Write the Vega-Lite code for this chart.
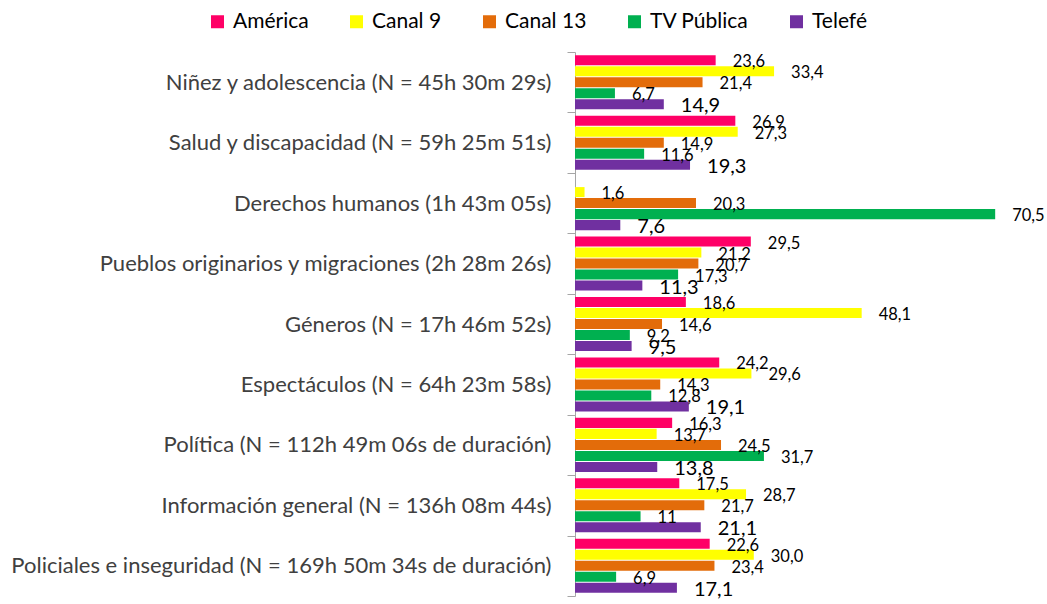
{
  "$schema": "https://vega.github.io/schema/vega-lite/v6.json",
  "autosize": {"type": "none"},
  "width": 447,
  "height": 544,
  "padding": {"left": 575, "top": 52, "right": 25, "bottom": 8},
  "background": "white",
  "config": {"view": {"stroke": null}, "font": "Lato"},
  "data": {
    "values": [
      {"tema": "Niñez y adolescencia (N = 45h 30m 29s)", "canal": "América", "valor": 23.6, "etiqueta": "23,6"},
      {"tema": "Niñez y adolescencia (N = 45h 30m 29s)", "canal": "Canal 9", "valor": 33.4, "etiqueta": "33,4"},
      {"tema": "Niñez y adolescencia (N = 45h 30m 29s)", "canal": "Canal 13", "valor": 21.4, "etiqueta": "21,4"},
      {"tema": "Niñez y adolescencia (N = 45h 30m 29s)", "canal": "TV Pública", "valor": 6.7, "etiqueta": "6,7"},
      {"tema": "Niñez y adolescencia (N = 45h 30m 29s)", "canal": "Telefé", "valor": 14.9, "etiqueta": "14,9"},
      {"tema": "Salud y discapacidad (N = 59h 25m 51s)", "canal": "América", "valor": 26.9, "etiqueta": "26,9"},
      {"tema": "Salud y discapacidad (N = 59h 25m 51s)", "canal": "Canal 9", "valor": 27.3, "etiqueta": "27,3"},
      {"tema": "Salud y discapacidad (N = 59h 25m 51s)", "canal": "Canal 13", "valor": 14.9, "etiqueta": "14,9"},
      {"tema": "Salud y discapacidad (N = 59h 25m 51s)", "canal": "TV Pública", "valor": 11.6, "etiqueta": "11,6"},
      {"tema": "Salud y discapacidad (N = 59h 25m 51s)", "canal": "Telefé", "valor": 19.3, "etiqueta": "19,3"},
      {"tema": "Derechos humanos (1h 43m 05s)", "canal": "Canal 9", "valor": 1.6, "etiqueta": "1,6"},
      {"tema": "Derechos humanos (1h 43m 05s)", "canal": "Canal 13", "valor": 20.3, "etiqueta": "20,3"},
      {"tema": "Derechos humanos (1h 43m 05s)", "canal": "TV Pública", "valor": 70.5, "etiqueta": "70,5"},
      {"tema": "Derechos humanos (1h 43m 05s)", "canal": "Telefé", "valor": 7.6, "etiqueta": "7,6"},
      {"tema": "Pueblos originarios y migraciones (2h 28m 26s)", "canal": "América", "valor": 29.5, "etiqueta": "29,5"},
      {"tema": "Pueblos originarios y migraciones (2h 28m 26s)", "canal": "Canal 9", "valor": 21.2, "etiqueta": "21,2"},
      {"tema": "Pueblos originarios y migraciones (2h 28m 26s)", "canal": "Canal 13", "valor": 20.7, "etiqueta": "20,7"},
      {"tema": "Pueblos originarios y migraciones (2h 28m 26s)", "canal": "TV Pública", "valor": 17.3, "etiqueta": "17,3"},
      {"tema": "Pueblos originarios y migraciones (2h 28m 26s)", "canal": "Telefé", "valor": 11.3, "etiqueta": "11,3"},
      {"tema": "Géneros (N = 17h 46m 52s)", "canal": "América", "valor": 18.6, "etiqueta": "18,6"},
      {"tema": "Géneros (N = 17h 46m 52s)", "canal": "Canal 9", "valor": 48.1, "etiqueta": "48,1"},
      {"tema": "Géneros (N = 17h 46m 52s)", "canal": "Canal 13", "valor": 14.6, "etiqueta": "14,6"},
      {"tema": "Géneros (N = 17h 46m 52s)", "canal": "TV Pública", "valor": 9.2, "etiqueta": "9,2"},
      {"tema": "Géneros (N = 17h 46m 52s)", "canal": "Telefé", "valor": 9.5, "etiqueta": "9,5"},
      {"tema": "Espectáculos (N = 64h 23m 58s)", "canal": "América", "valor": 24.2, "etiqueta": "24,2"},
      {"tema": "Espectáculos (N = 64h 23m 58s)", "canal": "Canal 9", "valor": 29.6, "etiqueta": "29,6"},
      {"tema": "Espectáculos (N = 64h 23m 58s)", "canal": "Canal 13", "valor": 14.3, "etiqueta": "14,3"},
      {"tema": "Espectáculos (N = 64h 23m 58s)", "canal": "TV Pública", "valor": 12.8, "etiqueta": "12,8"},
      {"tema": "Espectáculos (N = 64h 23m 58s)", "canal": "Telefé", "valor": 19.1, "etiqueta": "19,1"},
      {"tema": "Política (N = 112h 49m 06s de duración)", "canal": "América", "valor": 16.3, "etiqueta": "16,3"},
      {"tema": "Política (N = 112h 49m 06s de duración)", "canal": "Canal 9", "valor": 13.7, "etiqueta": "13,7"},
      {"tema": "Política (N = 112h 49m 06s de duración)", "canal": "Canal 13", "valor": 24.5, "etiqueta": "24,5"},
      {"tema": "Política (N = 112h 49m 06s de duración)", "canal": "TV Pública", "valor": 31.7, "etiqueta": "31,7"},
      {"tema": "Política (N = 112h 49m 06s de duración)", "canal": "Telefé", "valor": 13.8, "etiqueta": "13,8"},
      {"tema": "Información general (N = 136h 08m 44s)", "canal": "América", "valor": 17.5, "etiqueta": "17,5"},
      {"tema": "Información general (N = 136h 08m 44s)", "canal": "Canal 9", "valor": 28.7, "etiqueta": "28,7"},
      {"tema": "Información general (N = 136h 08m 44s)", "canal": "Canal 13", "valor": 21.7, "etiqueta": "21,7"},
      {"tema": "Información general (N = 136h 08m 44s)", "canal": "TV Pública", "valor": 11, "etiqueta": "11"},
      {"tema": "Información general (N = 136h 08m 44s)", "canal": "Telefé", "valor": 21.1, "etiqueta": "21,1"},
      {"tema": "Policiales e inseguridad (N = 169h 50m 34s de duración)", "canal": "América", "valor": 22.6, "etiqueta": "22,6"},
      {"tema": "Policiales e inseguridad (N = 169h 50m 34s de duración)", "canal": "Canal 9", "valor": 30.0, "etiqueta": "30,0"},
      {"tema": "Policiales e inseguridad (N = 169h 50m 34s de duración)", "canal": "Canal 13", "valor": 23.4, "etiqueta": "23,4"},
      {"tema": "Policiales e inseguridad (N = 169h 50m 34s de duración)", "canal": "TV Pública", "valor": 6.9, "etiqueta": "6,9"},
      {"tema": "Policiales e inseguridad (N = 169h 50m 34s de duración)", "canal": "Telefé", "valor": 17.1, "etiqueta": "17,1"}
    ]
  },
  "encoding": {
    "y": {
      "field": "tema", "type": "nominal", "sort": null,
      "scale": {"paddingInner": 0, "paddingOuter": 0},
      "axis": {
        "title": null, "tickBand": "extent", "tickSize": 8, "labelPadding": 16,
        "labelFontSize": 22, "labelColor": "#404040", "labelFont": "Lato",
        "domainColor": "#A6A6A6", "tickColor": "#A6A6A6", "labelLimit": 700, "grid": false
      }
    },
    "yOffset": {
      "field": "canal", "type": "nominal",
      "scale": {"domain": ["América", "Canal 9", "Canal 13", "TV Pública", "Telefé"], "paddingInner": 0.09, "paddingOuter": 0.29}
    },
    "x": {
      "field": "valor", "type": "quantitative",
      "scale": {"domain": [0, 75], "nice": false},
      "axis": null
    }
  },
  "layer": [
    {
      "mark": {"type": "bar"},
      "encoding": {
        "color": {
          "field": "canal", "type": "nominal",
          "scale": {
            "domain": ["América", "Canal 9", "Canal 13", "TV Pública", "Telefé"],
            "range": ["#FF0066", "#FFFF00", "#E36C0A", "#00B050", "#7030A0"]
          },
          "legend": {
            "title": null, "orient": "none", "direction": "horizontal", "columns": 5,
            "legendX": -368, "legendY": -41,
            "symbolType": "square", "symbolSize": 169, "symbolStrokeWidth": 0,
            "labelFontSize": 21, "labelFont": "Lato", "labelColor": "#000000",
            "labelOffset": 5, "columnPadding": 37, "symbolOpacity": 1
          }
        }
      }
    },
    {
      "mark": {"type": "text", "align": "left", "baseline": "middle", "dx": 17, "dy": 2, "color": "#000000", "font": "Lato"},
      "encoding": {
        "text": {"field": "etiqueta", "type": "nominal"},
        "size": {"condition": {"test": "datum.canal === 'Telefé'", "value": 20}, "value": 16.5}
      }
    }
  ]
}
